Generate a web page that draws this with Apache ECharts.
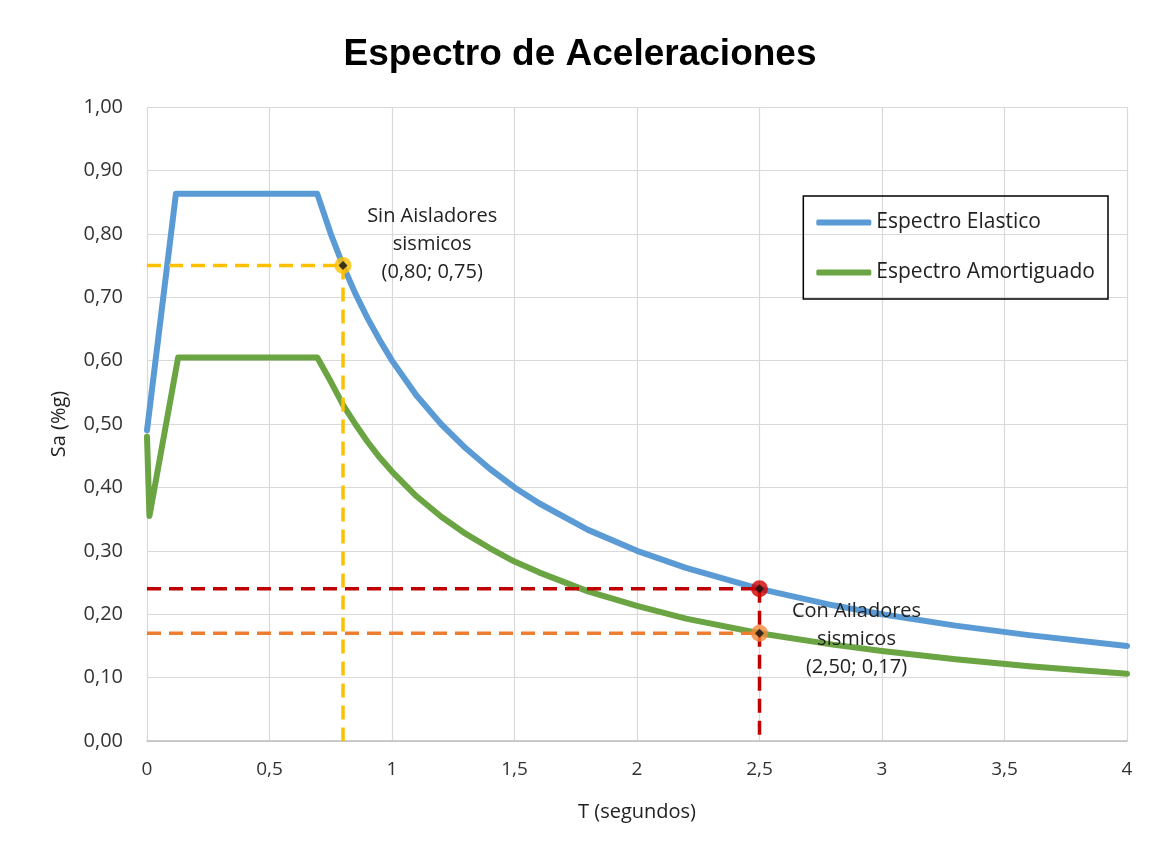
<!DOCTYPE html>
<html>
<head>
<meta charset="utf-8">
<script src="https://cdn.jsdelivr.net/npm/echarts@6/dist/echarts.min.js"></script>
<style>html,body{margin:0;padding:0;background:#fff}#c{width:1160px;height:851px}</style>
</head>
<body>
<div id="c"></div>
<script>
// Data
const periodsElastic = [0, 0.118, 0.695, 0.75, 0.8, 0.85, 0.9, 0.95, 1.0, 1.1, 1.2, 1.3, 1.4, 1.5, 1.6, 1.8, 2.0, 2.2, 2.5, 2.8, 3.0, 3.3, 3.6, 4.0];
const saElastic =      [0.49, 0.863, 0.863, 0.80, 0.75, 0.706, 0.667, 0.632, 0.60, 0.545, 0.50, 0.462, 0.429, 0.40, 0.375, 0.333, 0.30, 0.273, 0.24, 0.214, 0.20, 0.182, 0.167, 0.15];
const periodsDamped = [0, 0.01, 0.127, 0.695, 0.75, 0.8, 0.85, 0.9, 0.95, 1.0, 1.1, 1.2, 1.3, 1.4, 1.5, 1.6, 1.8, 2.0, 2.2, 2.5, 2.8, 3.0, 3.3, 3.6, 4.0];
const saDamped =      [0.48, 0.355, 0.605, 0.605, 0.567, 0.53, 0.50, 0.472, 0.447, 0.425, 0.386, 0.354, 0.327, 0.304, 0.283, 0.266, 0.236, 0.213, 0.193, 0.17, 0.152, 0.142, 0.129, 0.118, 0.106];
const pointSin = [0.80, 0.75];
const pointConTop = [2.50, 0.24];
const pointConBottom = [2.50, 0.17];
const labelSin = ['Sin Aisladores', 'sismicos', '(0,80; 0,75)'];
const labelCon = ['Con Ailadores', 'sismicos', '(2,50; 0,17)'];
const labelSinAnchor = [1.164, 0.784];
const labelConAnchor = [2.896, 0.161];
const seriesNames = ['Espectro Elastico', 'Espectro Amortiguado'];

const zip = (xs, ys) => xs.map((x, i) => [x, ys[i]]);
const FONT = 'Open Sans';

const dashed = (name, color, pts) => ({
  name, type: 'line', data: pts, symbol: 'none', silent: true, z: 3,
  lineStyle: { color, width: 3.5, type: [14, 8] }
});

const chart = echarts.init(document.getElementById('c'));
chart.setOption({
  animation: false,
  title: {
    text: 'Espectro de Aceleraciones', left: 'center', top: 31,
    textStyle: { fontFamily: 'Liberation Sans', fontWeight: 'bold', fontSize: 37, color: '#000' }
  },
  legend: {
    data: seriesNames, orient: 'vertical', right: 52, top: 196,
    borderColor: '#000', borderWidth: 1.5, padding: [16, 13, 16, 13], itemGap: 29,
    itemWidth: 55, itemHeight: 6,
    textStyle: { fontFamily: FONT, fontSize: 21, color: '#222' },
    icon: 'roundRect'
  },
  grid: { left: 147, right: 33, top: 107, bottom: 110 },
  xAxis: {
    type: 'value', min: 0, max: 4, interval: 0.5,
    name: 'T (segundos)', nameLocation: 'middle', nameGap: 61,
    nameTextStyle: { fontFamily: FONT, fontSize: 20, color: '#222' },
    axisLine: { show: true, lineStyle: { color: '#bfbfbf', width: 1.5 } },
    axisTick: { show: false },
    axisLabel: { fontFamily: FONT, fontSize: 19, color: '#333', margin: 19,
      formatter: v => String(v).replace('.', ',') },
    splitLine: { show: true, lineStyle: { color: '#d9d9d9', width: 1.2 } }
  },
  yAxis: {
    type: 'value', min: 0, max: 1, interval: 0.1,
    name: 'Sa (%g)', nameLocation: 'middle', nameGap: 78, nameRotate: 90,
    nameTextStyle: { fontFamily: FONT, fontSize: 20, color: '#222' },
    axisLine: { show: false }, axisTick: { show: false },
    axisLabel: { fontFamily: FONT, fontSize: 20, color: '#333', margin: 24,
      formatter: v => v.toFixed(2).replace('.', ',') },
    splitLine: { show: true, lineStyle: { color: '#d9d9d9', width: 1.2 } }
  },
  series: [
    { name: seriesNames[0], type: 'line', data: zip(periodsElastic, saElastic), symbol: 'none', z: 2,
      lineStyle: { color: '#5b9bd5', width: 6, cap: 'round', join: 'round' }, itemStyle: { color: '#5b9bd5' } },
    { name: seriesNames[1], type: 'line', data: zip(periodsDamped, saDamped), symbol: 'none', z: 2,
      lineStyle: { color: '#6aa443', width: 6, cap: 'round', join: 'round' }, itemStyle: { color: '#6aa443' } },
    dashed('sinH', '#ffc000', [[0, pointSin[1]], pointSin]),
    dashed('sinV', '#ffc000', [pointSin, [pointSin[0], 0]]),
    dashed('conTopH', '#c00000', [[0, pointConTop[1]], pointConTop]),
    dashed('conTopV', '#c00000', [pointConTop, [pointConTop[0], 0]]),
    dashed('conBotH', '#ed7d31', [[0, pointConBottom[1]], pointConBottom]),
    { type: 'scatter', silent: true, z: 5, symbolSize: 17,
      data: [
        { value: pointSin, itemStyle: { color: '#ffc000' } },
        { value: pointConTop, itemStyle: { color: '#d00000' } },
        { value: pointConBottom, itemStyle: { color: '#f0883a' } }
      ] },
    { type: 'scatter', silent: true, z: 6, symbol: 'diamond', symbolSize: 9,
      itemStyle: { color: '#111' }, data: [pointSin, pointConTop, pointConBottom] }
  ]
});

const annotations = [[labelSinAnchor, labelSin], [labelConAnchor, labelCon]];
chart.setOption({
  graphic: annotations.map(([anchor, lines]) => {
    const [px, py] = chart.convertToPixel({ gridIndex: 0 }, anchor);
    return {
      type: 'text', x: px, y: py, z: 100, silent: true,
      style: { text: lines.join('\n'), fill: '#222', font: '20px "Open Sans"',
        lineHeight: 28, align: 'center', verticalAlign: 'middle' }
    };
  })
});
</script>
</body>
</html>
